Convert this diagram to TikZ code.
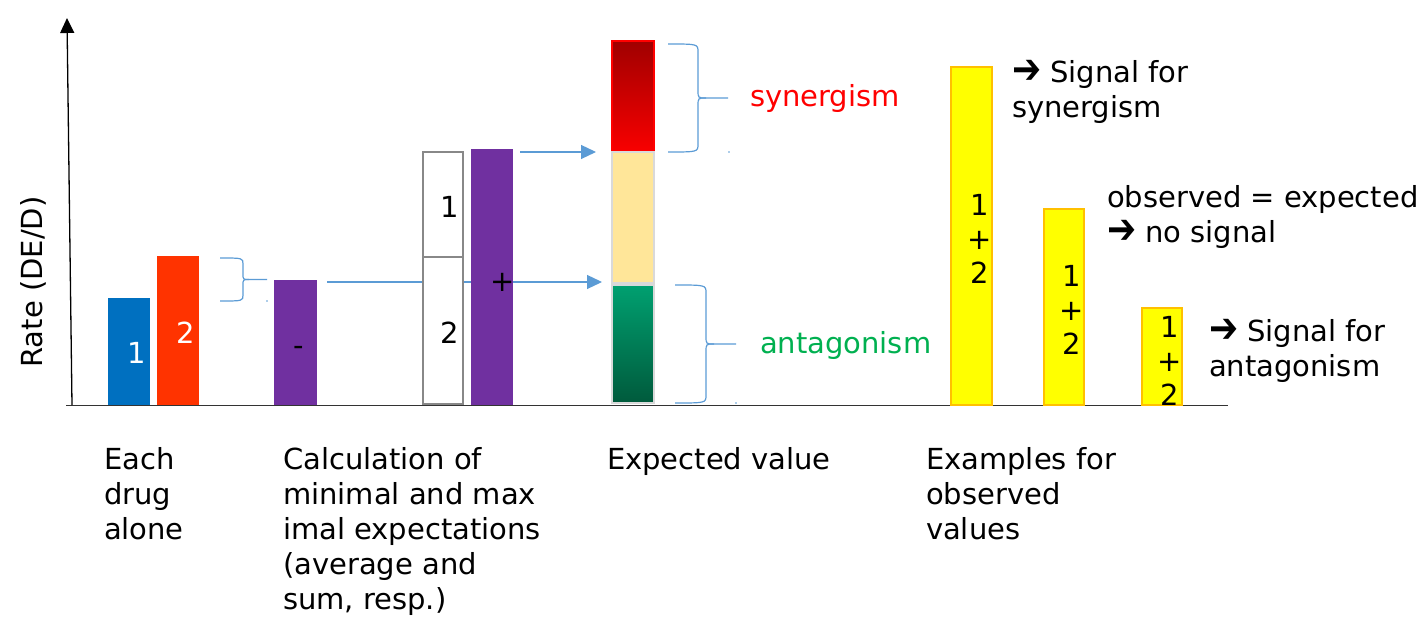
\documentclass[tikz,border=0pt]{standalone}
\usepackage{graphicx}
\usepackage{fontspec}
\setmainfont{DejaVu Sans}
\usetikzlibrary{arrows.meta,fit}
\definecolor{cblue}{HTML}{0070C0}
\definecolor{cred}{HTML}{FF3300}
\definecolor{cpurple}{HTML}{7030A0}
\definecolor{lblue}{HTML}{5B9BD5}
\definecolor{cgray}{HTML}{888888}
\definecolor{sand}{HTML}{FFE699}
\definecolor{lgray}{HTML}{D9D9D9}
\definecolor{dred}{HTML}{A00000}
\definecolor{bred}{HTML}{F80000}
\definecolor{gtop}{HTML}{00A070}
\definecolor{gbot}{HTML}{005A3C}
\definecolor{ggreen}{HTML}{00B050}
\definecolor{ybord}{HTML}{FFC000}
\definecolor{pyellow}{HTML}{FFFF00}
\newcommand\ofbrace[6]{%
  \draw[brc] (#1,#4) .. controls (#2,#4) .. (#2,{#4+#6}) -- (#2,{(#4+#5)/2-#6}) .. controls (#2,{(#4+#5)/2}) .. ({#2+#6},{(#4+#5)/2}) -- (#3,{(#4+#5)/2});
  \draw[brc] (#1,#5) .. controls (#2,#5) .. (#2,{#5-#6}) -- (#2,{(#4+#5)/2+#6}) .. controls (#2,{(#4+#5)/2}) .. ({#2+#6},{(#4+#5)/2});
}
\newcommand\harrow{\raisebox{-1pt}{\scalebox{1.2}[1.45]{\bfseries ➔}}}
\begin{document}
\begin{tikzpicture}[x=1pt,y=-1pt,
  txt/.style={font=\fontsize{29}{35}\selectfont, inner sep=0pt, outer sep=0pt},
  bartxt/.style={font=\fontsize{29}{34}\selectfont, inner sep=0pt, outer sep=0pt, align=center, anchor=north},
  barbox/.style={inner sep=0pt, outer sep=0pt},
  conn/.style={draw=lblue, line width=1.2pt, -{Triangle[length=15pt,width=14pt]}},
  brc/.style={draw=lblue, line width=1.2pt},
  ybar/.style={barbox, fill=pyellow, draw=ybord, line width=2pt},
  wbox/.style={barbox, fill=white, draw=cgray, line width=2.5pt}]
\useasboundingbox (0,0) rectangle (1423,617);

% axes
\coordinate (ybot) at (72,405);
\coordinate (ytop) at (67,18);
\coordinate (xl) at (66,405.5);
\coordinate (xr) at (1228,405.5);
\draw[line width=1.4pt, black!80] (xl) -- (xr);
\draw[line width=1.3pt, -{Triangle[length=15pt,width=14pt]}] (ybot) -- (ytop);
\node[txt, rotate=90, anchor=base] (ylab) at (42,282) {Rate (DE/D)};

% arrow start points
\coordinate (la) at (327,282);
\coordinate (ua) at (520,152);

% single drugs
\node[barbox, fill=cblue, fit={(108,298) (150,405)}] (b1) {};
\node[barbox, fill=cred, fit={(157,256) (199,405)}] (b2) {};
\node[txt, white, anchor=base] (b1t) at (137,363.5) {1};
\node[txt, white, anchor=base] (b2t) at (186,343.5) {2};
\ofbrace{220}{243}{267}{258}{301}{6}
\fill[lblue] (267,301) circle (0.9);

% minimal expectation
\node[barbox, fill=cpurple, fit={(274,280) (317,405)}] (p1) {};
\node[txt, anchor=base] (p1t) at (298.5,355) {-};

% expected value bar
\node[barbox, shading=axis, top color=dred, bottom color=bred, draw=red, line width=2pt, fit={(612,41) (654,151)}] (er) {};
\node[barbox, fill=sand, draw=lgray, line width=2pt, fit={(612,152) (654,283)}] (ey) {};
\node[barbox, shading=axis, top color=gtop, bottom color=gbot, draw=lgray, line width=2pt, fit={(612,285) (654,403)}] (eg) {};

\draw[conn, shorten >=10pt] (la) -- (la -| eg.west);

% maximal expectation
\node[wbox, fit={(423,152) (463,257)}] (w1) {};
\node[wbox, fit={(423,257) (463,404)}] (w2) {};
\node[txt, anchor=base] (w1t) at (450,217.5) {1};
\node[txt, anchor=base] (w2t) at (450,343.5) {2};
\node[barbox, fill=cpurple, fit={(471,149) (513,405)}] (p2) {};
\node[txt, anchor=base] (p2t) at (503,292) {+};
\draw[conn, shorten >=16pt] (ua) -- (ua -| er.west);

% braces at expected value
\ofbrace{668}{698}{728}{44}{152}{8}
\fill[lblue] (729,152) circle (0.9);
\ofbrace{675}{706}{736}{285}{403}{8}
\fill[lblue] (736,403) circle (0.9);
\node[txt, text=red, anchor=base west] (syn) at (750,107) {synergism};
\node[txt, text=ggreen, anchor=base west] (ant) at (760,353) {antagonism};

% observed examples
\node[ybar, fit={(951,67) (992,405)}] (oa) {};
\node[ybar, fit={(1044,209) (1084,405)}] (ob) {};
\node[ybar, fit={(1142,308) (1182,405)}] (oc) {};
\node[bartxt] (oat) at (980,194.5) {1\\+\\2};
\node[bartxt] (obt) at (1071.5,265.5) {1\\+\\2};
\node[bartxt] (oct) at (1170,316.5) {1\\+\\2};

\node[txt, align=left, anchor=north west] (sa) at (1012,60.5) {\harrow{} Signal for\\synergism};
\node[txt, align=left, anchor=north west] (sb) at (1107,185.5) {observed = expected\\\harrow{} no signal};
\node[txt, align=left, anchor=north west] (sc) at (1209,319.5) {\harrow{} Signal for\\antagonism};

% bottom labels
\node[txt, align=left, anchor=north west] (l1) at (104,447) {Each\\drug\\alone};
\node[txt, align=left, anchor=north west] (l2) at (283,447) {Calculation of\\minimal and max\\imal expectations\\(average and\\sum, resp.)};
\node[txt, align=left, anchor=north west] (l3) at (607,447) {Expected value};
\node[txt, align=left, anchor=north west] (l4) at (926,447) {Examples for\\observed\\values};
\end{tikzpicture}
\end{document}
